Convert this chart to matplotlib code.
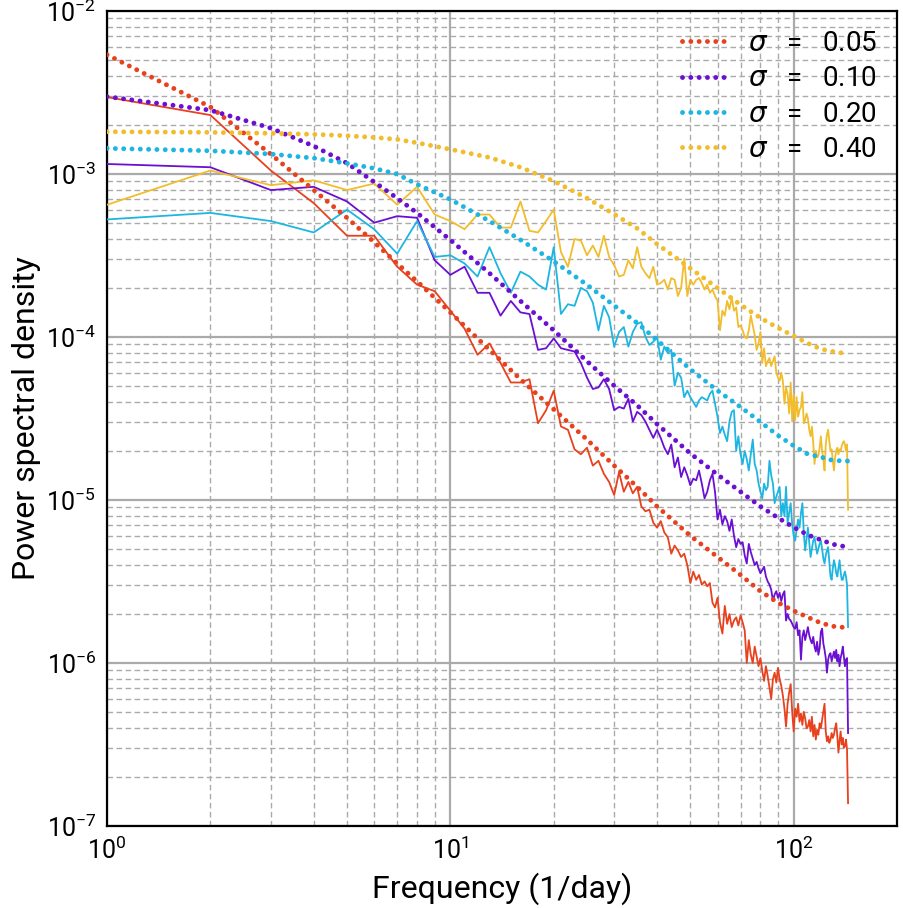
import numpy as np
import matplotlib
matplotlib.use("Agg")
import matplotlib.pyplot as plt
from matplotlib.ticker import LogLocator, NullFormatter

# ---------------- data (log10 of power spectral density) ----------------
sigmas = ["0.05", "0.10", "0.20", "0.40"]
freq = list(range(1, 145))

psd_log_005 = [
    -2.53, -2.64, -2.98, -3.18, -3.38, -3.38, -3.57, -3.68, -3.72, -3.84,
    -3.95, -4.11, -4.04, -4.16, -4.28, -4.28, -4.26, -4.53, -4.45, -4.33,
    -4.55, -4.57, -4.69, -4.72, -4.68, -4.79, -4.76, -4.84, -4.89, -4.97,
    -4.83, -4.95, -4.89, -4.96, -4.92, -5.04, -5.07, -5.06, -5.14, -5.17,
    -5.13, -5.20, -5.23, -5.33, -5.28, -5.31, -5.35, -5.33, -5.40, -5.51,
    -5.44, -5.49, -5.46, -5.52, -5.50, -5.53, -5.51, -5.63, -5.66, -5.60,
    -5.75, -5.82, -5.65, -5.76, -5.70, -5.78, -5.74, -5.72, -5.77, -5.71,
    -5.75, -5.80, -6.00, -5.86, -5.95, -6.00, -5.90, -5.96, -6.02, -5.97,
    -6.05, -6.11, -6.02, -6.08, -6.15, -6.22, -6.10, -6.06, -6.12, -6.03,
    -6.10, -6.14, -6.20, -6.28, -6.39, -6.25, -6.18, -6.13, -6.30, -6.42,
    -6.28, -6.33, -6.25, -6.36, -6.31, -6.38, -6.30, -6.34, -6.40, -6.39,
    -6.35, -6.42, -6.33, -6.45, -6.38, -6.47, -6.41, -6.44, -6.37, -6.40,
    -6.35, -6.30, -6.25, -6.42, -6.48, -6.45, -6.49, -6.47, -6.43, -6.46,
    -6.44, -6.40, -6.37, -6.45, -6.55, -6.48, -6.42, -6.50, -6.46, -6.52,
    -6.51, -6.47, -6.53, -6.86]

psd_log_010 = [
    -2.94, -2.96, -3.10, -3.08, -3.17, -3.30, -3.26, -3.27, -3.53, -3.62,
    -3.57, -3.73, -3.73, -3.87, -3.78, -3.85, -3.86, -4.08, -4.07, -4.01,
    -4.07, -4.08, -4.09, -4.16, -4.25, -4.32, -4.31, -4.26, -4.32, -4.45,
    -4.43, -4.44, -4.38, -4.52, -4.46, -4.48, -4.52, -4.57, -4.62, -4.57,
    -4.62, -4.68, -4.72, -4.66, -4.80, -4.74, -4.86, -4.80, -4.85, -4.91,
    -4.87, -4.88, -4.82, -4.90, -4.99, -4.95, -4.88, -4.84, -4.95, -5.12,
    -5.06, -5.15, -5.10, -5.13, -5.19, -5.12, -5.22, -5.29, -5.24, -5.27,
    -5.26, -5.34, -5.39, -5.27, -5.32, -5.36, -5.40, -5.38, -5.42, -5.45,
    -5.43, -5.41, -5.47, -5.50, -5.52, -5.55, -5.62, -5.58, -5.56, -5.60,
    -5.57, -5.62, -5.58, -5.56, -5.74, -5.70, -5.73, -5.74, -5.76, -5.78,
    -5.79, -5.75, -5.83, -5.80, -5.98, -5.84, -5.80, -5.86, -5.82, -5.78,
    -5.83, -5.86, -5.88, -5.84, -5.90, -5.93, -5.87, -5.95, -5.91, -5.81,
    -5.79, -5.88, -5.92, -5.97, -6.06, -5.98, -5.95, -5.94, -5.99, -5.96,
    -5.93, -5.97, -5.92, -5.99, -5.95, -6.02, -5.97, -5.94, -5.90, -5.96,
    -6.02, -5.98, -5.97, -6.43]

psd_log_020 = [
    -3.28, -3.24, -3.29, -3.36, -3.22, -3.34, -3.49, -3.29, -3.51, -3.50,
    -3.55, -3.63, -3.45, -3.61, -3.73, -3.60, -3.63, -3.68, -3.71, -3.45,
    -3.86, -3.80, -3.81, -3.70, -3.72, -3.79, -3.96, -3.81, -3.88, -4.06,
    -3.97, -3.94, -4.06, -3.97, -3.92, -3.91, -4.00, -4.05, -4.03, -4.00,
    -4.14, -4.06, -4.10, -4.08, -4.30, -4.22, -4.25, -4.37, -4.33, -4.37,
    -4.40, -4.43, -4.39, -4.37, -4.38, -4.39, -4.35, -4.33, -4.41, -4.49,
    -4.59, -4.55, -4.60, -4.64, -4.52, -4.46, -4.45, -4.70, -4.61, -4.72,
    -4.78, -4.70, -4.75, -4.82, -4.72, -4.63, -4.78, -4.82, -4.90, -4.95,
    -4.99, -4.90, -4.94, -4.92, -4.76, -4.85, -4.90, -5.02, -4.98, -4.95,
    -4.92, -5.10, -5.02, -5.10, -4.92, -5.14, -5.08, -5.02, -5.15, -5.22,
    -5.25, -5.18, -5.12, -5.17, -5.08, -5.02, -5.20, -5.31, -5.24, -5.17,
    -5.26, -5.35, -5.30, -5.25, -5.23, -5.28, -5.33, -5.30, -5.27, -5.25,
    -5.30, -5.36, -5.39, -5.34, -5.31, -5.29, -5.38, -5.47, -5.49, -5.42,
    -5.37, -5.40, -5.45, -5.47, -5.42, -5.37, -5.44, -5.49, -5.49, -5.46,
    -5.44, -5.47, -5.52, -5.78]

psd_log_040 = [
    -3.19, -2.98, -3.07, -3.04, -3.10, -3.06, -3.19, -3.08, -3.25, -3.29,
    -3.34, -3.25, -3.25, -3.33, -3.33, -3.17, -3.35, -3.36, -3.29, -3.22,
    -3.48, -3.57, -3.40, -3.41, -3.50, -3.44, -3.51, -3.38, -3.51, -3.56,
    -3.63, -3.62, -3.53, -3.58, -3.45, -3.57, -3.61, -3.64, -3.57, -3.68,
    -3.67, -3.65, -3.71, -3.64, -3.65, -3.75, -3.70, -3.52, -3.75, -3.65,
    -3.68, -3.65, -3.64, -3.67, -3.71, -3.68, -3.73, -3.71, -3.75, -3.78,
    -3.96, -3.84, -3.87, -3.78, -3.83, -3.76, -3.84, -3.82, -3.94, -3.93,
    -3.96, -4.00, -4.01, -3.96, -3.87, -3.93, -3.99, -4.08, -4.04, -3.97,
    -4.16, -4.07, -4.18, -4.15, -4.13, -4.18, -4.15, -4.12, -4.22, -4.25,
    -4.27, -4.22, -4.27, -4.41, -4.31, -4.35, -4.47, -4.28, -4.52, -4.35,
    -4.51, -4.37, -4.49, -4.45, -4.43, -4.34, -4.53, -4.51, -4.47, -4.50,
    -4.57, -4.61, -4.55, -4.65, -4.78, -4.70, -4.74, -4.73, -4.68, -4.61,
    -4.70, -4.75, -4.82, -4.66, -4.60, -4.57, -4.64, -4.70, -4.69, -4.76,
    -4.82, -4.74, -4.70, -4.68, -4.72, -4.69, -4.70, -4.67, -4.65, -4.64,
    -4.66, -4.70, -4.66, -5.06]

# theoretical curves (dotted), read at selected frequencies
theory_freq = [1, 2, 3, 4, 5, 6, 7, 8, 10, 13, 16, 20, 25, 30, 35, 40,
               50, 60, 70, 80, 90, 100, 110, 120, 130, 144]
theory_log_005 = [-2.27, -2.59, -2.88, -3.10, -3.27, -3.42, -3.55, -3.66, -3.85,
                  -4.08, -4.26, -4.445, -4.63, -4.79, -4.92, -5.04, -5.22, -5.35,
                  -5.46, -5.56, -5.63, -5.68, -5.72, -5.755, -5.775, -5.785]
theory_log_010 = [-2.527, -2.61, -2.72, -2.83, -2.935, -3.05, -3.15, -3.24, -3.406,
                  -3.61, -3.78, -3.96, -4.15, -4.30, -4.42, -4.535, -4.715, -4.845,
                  -4.95, -5.04, -5.11, -5.168, -5.215, -5.245, -5.272, -5.29]
theory_log_020 = [-2.844, -2.859, -2.879, -2.904, -2.936, -2.967, -3.002, -3.065,
                  -3.157, -3.29, -3.405, -3.537, -3.681, -3.808, -3.915, -4.02,
                  -4.199, -4.33, -4.43, -4.522, -4.605, -4.668, -4.72, -4.737,
                  -4.758, -4.762]
theory_log_040 = [-2.742, -2.746, -2.752, -2.758, -2.767, -2.777, -2.789, -2.81,
                  -2.85, -2.90, -2.96, -3.045, -3.15, -3.248, -3.335, -3.431,
                  -3.58, -3.70, -3.803, -3.884, -3.945, -3.995, -4.04, -4.075,
                  -4.09, -4.105]

colors = ["#e8411e", "#6a0fd3", "#1db5e2", "#f2bd2c"]

measured = [psd_log_005, psd_log_010, psd_log_020, psd_log_040]
theory = [theory_log_005, theory_log_010, theory_log_020, theory_log_040]

# ---------------- figure ----------------
plt.rcParams['font.family'] = ['Roboto', 'DejaVu Sans']
plt.rcParams['mathtext.fontset'] = 'custom'
plt.rcParams['mathtext.rm'] = 'Roboto'
plt.rcParams['mathtext.it'] = 'DejaVu Sans:italic'

fig = plt.figure(figsize=(9.04, 9.08), dpi=100)
ax = fig.add_axes([0.1184, 0.0903, 0.8739, 0.8979])

for c, m in zip(colors, measured):
    ax.plot(freq, 10 ** np.array(m), color=c, lw=1.3, zorder=3)

for c, t, s in zip(colors, theory, sigmas):
    ax.plot(theory_freq, 10 ** np.array(t), color=c, lw=3.5,
            linestyle=(0, (0.01, 1.7)), dash_capstyle='round', zorder=4,
            label=r"$\sigma$   =   " + s)

ax.set_xscale('log')
ax.set_yscale('log')
ax.set_xlim(1, 200)
ax.set_ylim(1e-7, 1e-2)

ax.xaxis.set_major_locator(LogLocator(base=10, numticks=10))
ax.xaxis.set_minor_locator(LogLocator(base=10, subs=np.arange(2, 10), numticks=20))
ax.yaxis.set_major_locator(LogLocator(base=10, numticks=10))
ax.yaxis.set_minor_locator(LogLocator(base=10, subs=np.arange(2, 10), numticks=20))
ax.xaxis.set_minor_formatter(NullFormatter())
ax.yaxis.set_minor_formatter(NullFormatter())

ax.grid(True, which='major', color='#aaaaaa', lw=1.6, ls='-', zorder=0)
ax.grid(True, which='minor', color='#aaaaaa', lw=1.0, ls=(0, (4, 2.5)), zorder=0)
ax.set_axisbelow(True)

ax.tick_params(which='both', length=0, labelsize=18, pad=8, labelcolor='black')
for sp in ax.spines.values():
    sp.set_linewidth(1.6)
    sp.set_color('black')

ax.set_xlabel("Frequency (1/day)", fontsize=23, labelpad=6)
ax.set_ylabel("Power spectral density", fontsize=23, labelpad=4)

leg = ax.legend(loc='upper right', frameon=False, fontsize=20, handlelength=1.6,
                handletextpad=0.8, labelspacing=0.3, borderaxespad=0.3)

fig.savefig("out.png", dpi=100)
